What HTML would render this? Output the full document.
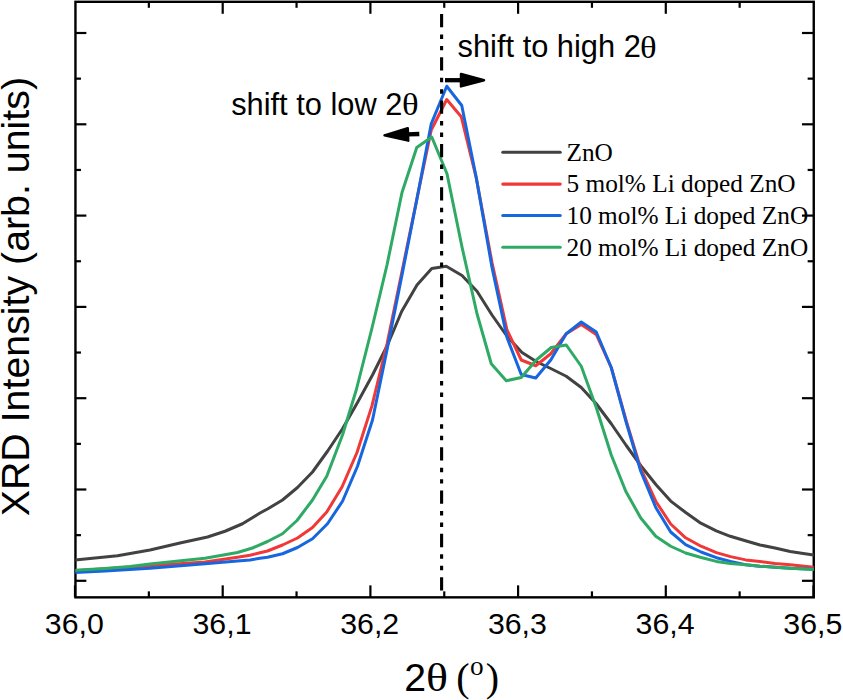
<!DOCTYPE html>
<html><head><meta charset="utf-8"><title>XRD</title>
<style>
html,body{margin:0;padding:0;background:#fff;}
body{width:843px;height:700px;overflow:hidden;}
svg{display:block;}
.sans{font-family:"Liberation Sans",sans-serif;}
.serif{font-family:"Liberation Serif",serif;}
</style></head><body>
<svg width="843" height="700" viewBox="0 0 843 700">
<rect width="843" height="700" fill="#fff"/>
<defs><clipPath id="c"><rect x="75.45" y="1.8" width="738.3" height="595.5500000000001"/></clipPath></defs>
<g stroke="#000" stroke-width="2.2" fill="none">
<line x1="75.00" y1="597.35" x2="75.00" y2="585.35"/>
<line x1="148.85" y1="597.35" x2="148.85" y2="591.35"/>
<line x1="148.85" y1="1.8" x2="148.85" y2="7.8"/>
<line x1="222.70" y1="597.35" x2="222.70" y2="585.35"/>
<line x1="222.70" y1="1.8" x2="222.70" y2="13.8"/>
<line x1="296.55" y1="597.35" x2="296.55" y2="591.35"/>
<line x1="296.55" y1="1.8" x2="296.55" y2="7.8"/>
<line x1="370.40" y1="597.35" x2="370.40" y2="585.35"/>
<line x1="370.40" y1="1.8" x2="370.40" y2="13.8"/>
<line x1="444.25" y1="597.35" x2="444.25" y2="591.35"/>
<line x1="444.25" y1="1.8" x2="444.25" y2="7.8"/>
<line x1="518.10" y1="597.35" x2="518.10" y2="585.35"/>
<line x1="518.10" y1="1.8" x2="518.10" y2="13.8"/>
<line x1="591.95" y1="597.35" x2="591.95" y2="591.35"/>
<line x1="591.95" y1="1.8" x2="591.95" y2="7.8"/>
<line x1="665.80" y1="597.35" x2="665.80" y2="585.35"/>
<line x1="665.80" y1="1.8" x2="665.80" y2="13.8"/>
<line x1="739.65" y1="597.35" x2="739.65" y2="591.35"/>
<line x1="739.65" y1="1.8" x2="739.65" y2="7.8"/>
<line x1="813.50" y1="597.35" x2="813.50" y2="585.35"/>
<line x1="75.45" y1="580.80" x2="86.35000000000001" y2="580.80"/>
<line x1="813.75" y1="580.80" x2="801.95" y2="580.80"/>
<line x1="75.45" y1="489.50" x2="86.35000000000001" y2="489.50"/>
<line x1="813.75" y1="489.50" x2="801.95" y2="489.50"/>
<line x1="75.45" y1="398.20" x2="86.35000000000001" y2="398.20"/>
<line x1="813.75" y1="398.20" x2="801.95" y2="398.20"/>
<line x1="75.45" y1="306.90" x2="86.35000000000001" y2="306.90"/>
<line x1="813.75" y1="306.90" x2="801.95" y2="306.90"/>
<line x1="75.45" y1="215.60" x2="86.35000000000001" y2="215.60"/>
<line x1="813.75" y1="215.60" x2="801.95" y2="215.60"/>
<line x1="75.45" y1="124.30" x2="86.35000000000001" y2="124.30"/>
<line x1="813.75" y1="124.30" x2="801.95" y2="124.30"/>
<line x1="75.45" y1="33.00" x2="86.35000000000001" y2="33.00"/>
<line x1="813.75" y1="33.00" x2="801.95" y2="33.00"/>
<line x1="75.45" y1="535.15" x2="80.95" y2="535.15"/>
<line x1="75.45" y1="535.15" x2="81.55" y2="535.15" transform="translate(732.1999999999999,0)"/>
<line x1="75.45" y1="443.85" x2="80.95" y2="443.85"/>
<line x1="75.45" y1="443.85" x2="81.55" y2="443.85" transform="translate(732.1999999999999,0)"/>
<line x1="75.45" y1="352.55" x2="80.95" y2="352.55"/>
<line x1="75.45" y1="352.55" x2="81.55" y2="352.55" transform="translate(732.1999999999999,0)"/>
<line x1="75.45" y1="261.25" x2="80.95" y2="261.25"/>
<line x1="75.45" y1="261.25" x2="81.55" y2="261.25" transform="translate(732.1999999999999,0)"/>
<line x1="75.45" y1="169.95" x2="80.95" y2="169.95"/>
<line x1="75.45" y1="169.95" x2="81.55" y2="169.95" transform="translate(732.1999999999999,0)"/>
<line x1="75.45" y1="78.65" x2="80.95" y2="78.65"/>
<line x1="75.45" y1="78.65" x2="81.55" y2="78.65" transform="translate(732.1999999999999,0)"/>
</g>
<rect x="75.45" y="1.8" width="738.3" height="595.5500000000001" fill="none" stroke="#000" stroke-width="2.4"/>
<g clip-path="url(#c)" fill="none" stroke-width="3.0" stroke-linejoin="round" stroke-linecap="butt">
<polyline stroke="#424242" points="60.00,561.50 75.00,560.00 117.50,555.75 150.00,550.00 180.00,543.00 207.50,537.00 225.00,531.25 242.50,523.75 260.00,513.00 267.50,509.00 282.50,500.00 297.50,487.50 312.50,472.00 327.50,451.25 342.50,428.75 357.50,402.50 372.50,375.00 387.50,345.00 401.75,311.25 417.00,285.00 431.75,268.50 446.25,266.25 462.00,275.50 477.00,291.25 492.00,315.00 507.00,336.25 522.00,352.50 537.00,362.00 551.25,368.75 566.25,376.25 581.25,387.50 596.25,403.75 611.25,423.75 626.25,445.50 641.25,466.25 656.25,485.00 670.70,501.10 685.70,512.50 700.80,523.20 716.30,530.90 730.30,536.30 745.40,540.80 760.00,545.00 775.00,548.00 790.20,551.50 803.30,553.40 813.60,554.90 825.00,556.00"/>
<polyline stroke="#F03838" points="60.00,571.70 75.00,570.75 150.00,565.75 205.00,562.00 237.50,557.20 250.00,555.30 260.00,552.70 267.50,551.00 282.50,545.00 297.50,538.00 312.50,527.50 326.75,512.00 342.00,487.00 357.00,452.50 372.00,405.60 387.00,344.00 402.00,271.50 416.75,199.50 431.25,130.00 446.75,99.50 461.25,116.75 476.25,178.00 492.00,262.50 507.00,330.00 521.25,360.00 535.75,365.75 550.75,353.75 566.25,333.75 581.25,324.50 596.25,334.50 611.25,367.50 626.25,421.00 640.75,468.75 655.75,501.25 670.70,524.00 685.60,537.80 701.00,546.20 716.40,552.60 730.50,556.60 745.70,559.90 759.80,561.60 775.00,563.40 790.20,564.70 813.60,567.30 825.00,568.00"/>
<polyline stroke="#1666E0" points="60.00,573.20 75.00,572.50 105.00,571.00 150.00,568.30 205.00,563.75 237.50,561.00 250.00,560.00 260.00,558.30 267.50,557.30 282.50,553.75 297.50,547.50 312.50,538.75 327.50,523.75 342.50,501.25 357.50,466.25 372.50,420.00 387.50,347.50 402.00,275.00 416.75,200.00 431.25,123.75 446.75,86.25 461.75,105.50 476.25,177.50 492.00,267.50 507.00,337.50 521.25,374.50 535.75,378.00 550.75,360.00 566.25,333.75 581.25,322.00 596.25,332.00 611.25,367.50 626.25,422.50 640.75,471.25 655.75,507.50 670.70,532.00 685.60,544.70 701.00,552.00 716.40,557.70 730.50,561.40 745.70,564.70 759.80,566.20 775.00,567.30 790.20,568.30 813.60,569.30 825.00,569.80"/>
<polyline stroke="#2EAA65" points="60.00,571.20 75.00,570.30 105.00,568.50 130.00,566.50 150.00,564.00 205.00,558.25 237.50,552.50 252.50,548.00 267.50,541.50 282.50,533.75 297.00,520.50 312.50,500.00 326.75,476.25 342.50,435.00 356.25,390.00 372.00,328.00 387.00,265.00 402.00,192.50 416.75,147.50 431.75,137.00 447.00,173.75 462.00,247.00 477.00,313.75 491.25,363.75 506.25,380.75 521.25,377.50 536.25,360.00 551.25,347.50 566.25,345.00 581.25,366.25 596.25,407.50 611.25,455.00 625.75,491.25 640.75,518.00 655.75,536.25 670.70,546.25 685.60,553.00 701.20,557.50 716.40,561.40 730.50,563.60 745.70,564.70 759.80,566.20 775.00,567.30 790.20,568.30 813.60,569.40 825.00,570.00"/>
</g>
<line x1="441.6" y1="13.9" x2="441.6" y2="590.6" stroke="#000" stroke-width="3.1" stroke-dasharray="13.3 7.2 4.5 7 4.4 6.93"/>
<g class="sans" font-size="30.3" fill="#000">
<text x="74.30" y="633.6" text-anchor="middle">36,0</text>
<text x="222.00" y="633.6" text-anchor="middle">36,1</text>
<text x="369.70" y="633.6" text-anchor="middle">36,2</text>
<text x="517.40" y="633.6" text-anchor="middle">36,3</text>
<text x="665.10" y="633.6" text-anchor="middle">36,4</text>
<text x="812.80" y="633.6" text-anchor="middle">36,5</text>
</g>
<text class="sans" font-size="39.35" fill="#000" transform="translate(29.4,516.3) rotate(-90)">XRD Intensity (arb. units)</text>
<text class="sans" font-size="39.2" fill="#000" x="404.2" y="690.5">2</text>
<text class="serif" font-size="39.2" fill="#000" transform="translate(426.0,691.2) scale(1.17,1)">θ</text>
<text class="serif" font-size="40" fill="#000" x="456.3" y="691">(</text>
<text class="serif" font-size="27.3" fill="#000" x="470.1" y="675.4">o</text>
<text class="serif" font-size="40" fill="#000" x="485.8" y="691">)</text>
<text class="sans" font-size="30.8" fill="#000" x="231.2" y="114.9">shift to low 2</text>
<text class="serif" font-size="31" fill="#000" transform="translate(402.0,115.1) scale(1.12,1)">θ</text>
<text class="sans" font-size="30.8" fill="#000" x="457.6" y="57.3">shift to high 2</text>
<text class="serif" font-size="31" fill="#000" transform="translate(640.0,57.5) scale(1.12,1)">θ</text>
<!-- arrows -->
<g fill="#000" stroke="#000" stroke-linejoin="round">
<line x1="445" y1="80.2" x2="462" y2="80.2" stroke-width="4.3"/>
<polygon points="461,74 484,80.2 461,86.4" stroke-width="2.5"/>
<g transform="rotate(-2.2 419.3 134.0)"><line x1="419.3" y1="134.0" x2="407" y2="134.0" stroke-width="4.3"/>
<polygon points="408,127.8 384.5,134.0 408,140.2" stroke-width="2.5"/></g>
</g>
<!-- legend -->
<g fill="none" stroke-width="3.1" stroke-linecap="round">
<line x1="502.8" y1="152.3" x2="560.2" y2="152.3" stroke="#424242"/>
<line x1="502.8" y1="184.1" x2="560.2" y2="184.1" stroke="#F03838"/>
<line x1="502.8" y1="215.5" x2="560.2" y2="215.5" stroke="#1666E0"/>
<line x1="502.8" y1="247.2" x2="560.2" y2="247.2" stroke="#2EAA65"/>
</g>
<g class="serif" font-size="25.3" fill="#000">
<text x="566.5" y="160.8">ZnO</text>
<text x="566.5" y="192.4">5 mol% Li doped ZnO</text>
<text x="566.5" y="223.9">10 mol% Li doped ZnO</text>
<text x="566.5" y="255.5">20 mol% Li doped ZnO</text>
</g>
</svg>
</body></html>
